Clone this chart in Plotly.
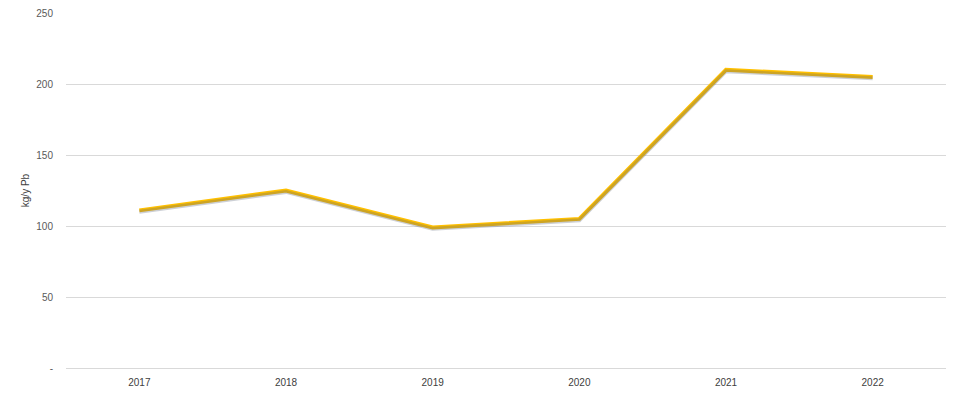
import plotly.graph_objects as go

years = ["2017", "2018", "2019", "2020", "2021", "2022"]
values = [111, 125, 99, 105, 210, 205]
y_ticks = [0, 50, 100, 150, 200, 250]
y_tick_text = ["-", "50", "100", "150", "200", "250"]

fig = go.Figure()
# soft shadow beneath the line (drawn on an overlaid axis shifted slightly)
fig.add_trace(go.Scatter(x=years, y=values, mode="lines", yaxis="y2",
                         line=dict(color="rgba(90,100,120,0.3)", width=4),
                         hoverinfo="skip", showlegend=False))
fig.add_trace(go.Scatter(x=years, y=values, mode="lines",
                         line=dict(color="#FFC000", width=4),
                         showlegend=False))

fig.update_layout(
    width=960, height=397,
    margin=dict(l=66, r=14, t=7, b=29),
    paper_bgcolor="white", plot_bgcolor="white",
    font=dict(family="Liberation Sans, Arial, sans-serif", size=10, color="#595959"),
    xaxis=dict(type="category", range=[-0.5, 5.5], showgrid=False, zeroline=False,
               showline=True, linecolor="#D9D9D9", linewidth=1,
               ticks="", ticklabelstandoff=5, tickfont=dict(size=10, color="#404040")),
    yaxis=dict(range=[0, 250], tickvals=y_ticks, ticktext=y_tick_text,
               showgrid=True, gridcolor="#D9D9D9", gridwidth=1, zeroline=False,
               showline=False, ticks="", ticklabelstandoff=12,
               tickfont=dict(size=10, color="#595959"),
               title=dict(text="kg/y Pb", font=dict(size=10, color="#404040"), standoff=4)),
    yaxis2=dict(range=[1.0, 251.0], overlaying="y", visible=False),
)

fig.write_html("out.html")
